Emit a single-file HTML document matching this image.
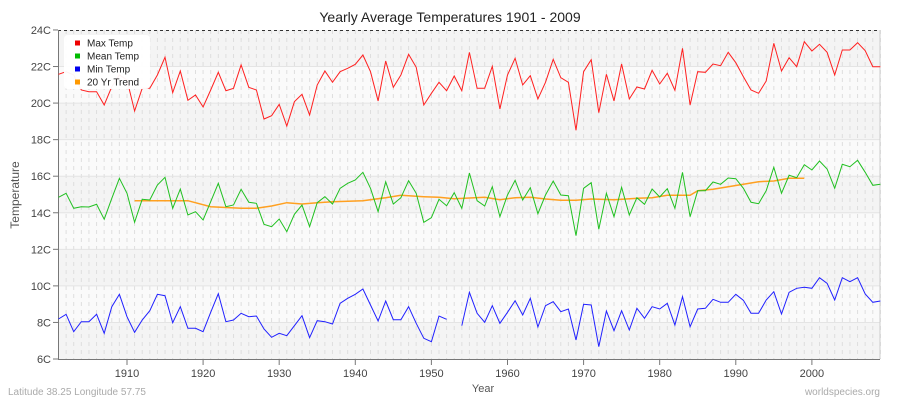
<!DOCTYPE html>
<html><head><meta charset="utf-8"><style>
body{margin:0;background:#fff;width:900px;height:400px;overflow:hidden;font-family:"Liberation Sans",sans-serif}
</style></head><body>
<svg id="s" width="900" height="400" xmlns="http://www.w3.org/2000/svg" font-family="Liberation Sans, sans-serif"></svg>
<script>
var s=document.getElementById('s'),h='';
var X0=58.5,DX=7.61,L=58,R=880,T=30,B=359;
function x(i){return X0+i*DX}
function yv(v){return 359-(v-6)*18.28}
for(var k=0;k<9;k++){var y1=yv(24-2*k)-0,y2=yv(22-2*k);h+='<rect x="'+L+'" y="'+y1+'" width="'+(R-L)+'" height="'+(y2-y1)+'" fill="'+(k%2==0?'#f4f4f4':'#fafafa')+'"/>';}
for(var i=0;i<109;i++){h+='<line x1="'+x(i)+'" y1="'+T+'" x2="'+x(i)+'" y2="'+B+'" stroke="#dedede" stroke-dasharray="4,4" stroke-width="1"/>';}
for(var v=8;v<=22;v+=2){h+='<line x1="'+L+'" y1="'+yv(v)+'" x2="'+R+'" y2="'+yv(v)+'" stroke="#e4e4e4" stroke-width="1"/>';}
h+='<line x1="'+L+'" y1="30.5" x2="'+R+'" y2="30.5" stroke="#333" stroke-dasharray="3,3"/>';
h+='<line x1="'+R+'" y1="30" x2="'+R+'" y2="'+B+'" stroke="#ccc"/>';
h+='<line x1="'+L+'.5" y1="30" x2="'+L+'.5" y2="'+B+'" stroke="#777"/>';
h+='<line x1="'+L+'" y1="'+B+'.5" x2="'+R+'" y2="'+B+'.5" stroke="#777"/>';
for(var v=6;v<=24;v+=2){var yy=yv(v);h+='<line x1="53" y1="'+yy+'" x2="58" y2="'+yy+'" stroke="#777"/><text x="51" y="'+(yy+4)+'" font-size="11" fill="#444" text-anchor="end">'+v+'C</text>';}
for(var yr=1910;yr<=2000;yr+=10){var xx=x(yr-1901);h+='<line x1="'+xx+'" y1="359" x2="'+xx+'" y2="365" stroke="#777"/><text x="'+xx+'" y="377" font-size="11" fill="#444" text-anchor="middle">'+yr+'</text>';}
var mx=[74.3,71.7,75,90,91.7,91.7,105,86.7,75,80,111,88.3,88.3,75,57.3,92.7,71,100.3,95,107,90,72.3,90.7,88.3,65,87.3,90,119,115.7,104.3,126,101.7,94.3,115,85,71,82.3,71.7,68.3,64.3,55,71.7,101,61,87.3,75,54.3,67.3,105,93.3,82.3,90.7,76,90.7,52.3,88.3,88.3,66.3,109,75,58.3,85,75.7,99,82.3,59.3,77.7,82.3,130.3,71.7,59.7,112.7,74.3,101,64,99,87,89,70.3,84,73.3,90.3,48.3,105,71.7,72.3,64,65.7,52.3,62.7,76.7,90,93.3,81,43.3,71,57.7,66.7,41.7,51,44.3,52.3,75,50,50,42.7,50.7,66.7,66.7];
var mn=[197.3,193.3,208.3,206.7,207,204.3,219.3,198.3,178.3,193.3,222.3,199.3,200,185,177.3,208.3,189,215,211.7,220,201.7,183.3,206.7,205,189.3,202.3,203.3,224.3,226.7,219,231.7,214.3,205,226.7,202.7,196.7,204,188.3,183.3,180,172.3,188.3,211.7,181.7,204,197.7,180.7,193.3,222.3,217.7,199.3,205.7,192.7,208.3,173,200.7,206,186.7,216.7,195,180.3,200,187.7,213.7,195,181,195,195.7,235.7,188.3,182.7,229.3,193.3,216.7,187.3,215,197.7,204.3,189,197,188.7,208.3,172.3,216.7,190.7,190.7,182,184.3,178,178.7,188.3,202.3,203.7,190.7,167.3,193.3,175.3,177.7,164.7,170,161,169,188.3,164.3,166.7,160.3,172.3,185.3,184.3];
var mi=[319,314.3,331.7,321.7,321.7,314.3,333.3,306.7,294.3,316.7,332.3,320,310.7,294.3,295.7,322.7,306.7,328.3,328.3,331.7,312.3,293.7,321.7,320,313.3,316.7,316,329,337.3,333.3,335.7,325.7,315.7,337.7,320.7,321.7,324,303.3,298.3,294.3,289,305,321,301,319.7,319.7,306.7,323.3,338.3,341.7,316,319.3,null,325.7,292.3,313.3,322.3,305.7,323.3,312.3,300.7,315,298.3,327,305.7,301.7,311.7,309,340,304.3,305,346.7,311,330.7,310.7,330,308.3,318.3,306.7,309,303.3,325,296.7,326.7,309,308.3,299.3,302.3,302.3,294.3,300.3,313.3,313.3,300,291.7,314,292.3,288.3,287.3,288.3,277.7,283.3,300,277.7,281.7,277.7,294,302.3,301];
var tk=[[10,200.7],[17,200.7],[20,206.7],[24,208.3],[26,208.3],[28,206],[30,202.7],[32,204],[34,202.7],[36,201.7],[40,200.7],[43,197.7],[45,195.3],[48,196.7],[50,197.3],[52,198.7],[56,197.3],[58,199.7],[60,197.7],[62,197.3],[64,199],[66,200.3],[68,200.3],[70,199],[73,199.7],[76,198.3],[78,197.7],[80,195.3],[83,195.3],[84,190.7],[86,189.3],[88,186.7],[90,184.3],[92,181.7],[94,181],[96,178.3],[98,178.3]];
function pl(a,c){var segs=[],cur=[];a.forEach(function(v,i){if(v==null){if(cur.length)segs.push(cur);cur=[];}else cur.push(x(i).toFixed(1)+','+v);});if(cur.length)segs.push(cur);segs.forEach(function(sg){h+='<polyline points="'+sg.join(' ')+'" fill="none" stroke="'+c+'" stroke-width="1"/>';});}
h+='<polyline points="'+tk.map(function(p){return x(p[0]).toFixed(1)+','+p[1]}).join(' ')+'" fill="none" stroke="#ffa020" stroke-width="1.5"/>';
pl(mx,'#ff2020');pl(mn,'#20c020');pl(mi,'#2020ff');
h+='<rect x="64" y="35" width="86" height="54" rx="4" fill="#fff" opacity="0.95"/>';
[['Max Temp','#ee0000'],['Mean Temp','#00bb00'],['Min Temp','#0000ee'],['20 Yr Trend','#ff9900']].forEach(function(e,k){var yy=43+k*13;h+='<rect x="75" y="'+(yy-2.5)+'" width="5" height="5" fill="'+e[1]+'"/><text x="87" y="'+(yy+3.5)+'" font-size="10" fill="#222">'+e[0]+'</text>';});
h+='<text x="450" y="22" font-size="14" fill="#222" text-anchor="middle">Yearly Average Temperatures 1901 - 2009</text>';
h+='<text x="483" y="392" font-size="11" fill="#555" text-anchor="middle">Year</text>';
h+='<text transform="translate(19,195) rotate(-90)" font-size="12" fill="#555" text-anchor="middle">Temperature</text>';
h+='<text x="8" y="395" font-size="10" fill="#aaa">Latitude 38.25 Longitude 57.75</text>';
h+='<text x="880" y="395" font-size="10" fill="#aaa" text-anchor="end">worldspecies.org</text>';
s.innerHTML=h;
</script>
</body></html>
